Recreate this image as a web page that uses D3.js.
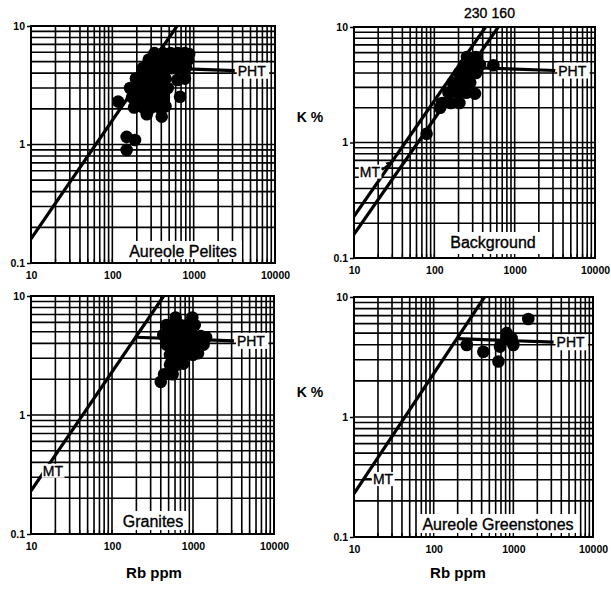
<!DOCTYPE html>
<html lang="en">
<head>
<meta charset="UTF-8">
<title>K % vs Rb ppm</title>
<script src="https://d3js.org/d3.v7.min.js"></script>
<style>
  body { margin: 0; background: #fff; }
  svg { font-family: "Liberation Sans", Arial, sans-serif; }
</style>
</head>
<body>
<script>
// samples, [Rb ppm, K %]
const pelites = [
  [118, 2.3], [150, 1.16], [190, 1.09], [150, 0.9], [265, 1.8], [405, 1.72],
  [330, 5.9], [420, 5.9], [520, 5.9], [640, 5.9], [780, 5.9], [880, 5.8],
  [280, 5.2], [340, 5.2], [410, 5.2], [500, 5.2], [600, 5.2], [720, 5.2], [860, 5.2],
  [235, 4.4], [290, 4.4], [360, 4.4], [440, 4.4], [540, 4.4], [660, 4.4], [800, 4.5],
  [195, 3.6], [240, 3.6], [300, 3.6], [370, 3.6], [450, 3.6], [630, 3.5], [780, 3.6],
  [165, 3.0], [205, 3.0], [255, 3.0], [320, 3.0], [400, 3.0], [480, 3.0],
  [175, 2.5], [220, 2.5], [280, 2.5], [350, 2.5], [430, 2.5], [680, 2.53],
  [185, 2.05], [240, 2.05], [300, 2.05], [380, 2.05], [450, 2.1]
];
const background = [
  [80, 1.19], [255, 5.5], [330, 5.5], [235, 4.7], [300, 4.7], [370, 4.7], [543, 4.67],
  [205, 4.0], [260, 4.0], [330, 4.0], [170, 3.3], [220, 3.3], [280, 3.3],
  [150, 2.7], [195, 2.7], [250, 2.7], [321, 2.65], [125, 2.2], [160, 2.2], [205, 2.2],
  [118, 2.0]
];
const granites = [
  [610, 6.6], [980, 6.6], [470, 5.7], [560, 5.7], [700, 5.7], [850, 5.7], [1050, 5.7],
  [430, 4.7], [520, 4.7], [650, 4.7], [800, 4.7], [1000, 4.7], [1250, 4.6], [1450, 4.5],
  [470, 3.9], [570, 3.9], [720, 3.9], [900, 3.9], [1100, 3.9], [1350, 3.9],
  [520, 3.2], [640, 3.2], [800, 3.2], [1000, 3.2], [1150, 3.3],
  [520, 2.65], [640, 2.65], [760, 2.7], [440, 2.2], [560, 2.2], [400, 1.9]
];
const greenstones = [
  [1540, 6.56], [260, 3.98], [420, 3.5], [650, 2.9], [824, 5.0], [952, 4.53],
  [680, 3.86], [1000, 3.98], [820, 4.53]
];

const xTicks = [10, 100, 1000, 10000];
const yTicks = [0.1, 1, 10];
// K/Rb ratio lines (MT)
const ratiosPelites = [160];
const ratiosBackground = [230, 160];
const ratiosGranites = [230];
const ratiosGreenstones = [230];
// PHT trend, [Rb, K]
const pht = [[200, 4.5], [3200, 4.2]];

const width = 611, height = 589;

const svg = d3.select("body").append("svg")
  .attr("width", width)
  .attr("height", height);

// arrowhead for MT pointer
svg.append("defs").append("marker")
  .attr("id", "arrow")
  .attr("viewBox", "0 0 10 10").attr("refX", 8).attr("refY", 5)
  .attr("markerWidth", 3.5).attr("markerHeight", 3.5).attr("orient", "auto")
  .append("path").attr("d", "M0,0L10,5L0,10z").style("fill", "#000");

// panel layout
const panels = [
  { name: "Aureole Pelites", data: pelites, ratios: ratiosPelites,
    box: [31, 26, 275, 263], labelX: 152, labelUp: 6, mt: null },
  { name: "Background", data: background, ratios: ratiosBackground,
    box: [354, 27, 595, 258], labelX: 139, labelUp: 10,
    mt: { at: [11.8, 0.56], lead: [[22.3, 0.578], [29.5, 0.68]], arrow: true },
    ratioLabels: [-10, 5] },
  { name: "Granites", data: granites, ratios: ratiosGranites,
    box: [31, 296, 274, 534], labelX: 122, labelUp: 7,
    mt: { at: [14, 0.34], lead: null } },
  { name: "Aureole Greenstones", data: greenstones, ratios: ratiosGreenstones,
    box: [354, 297, 593, 537], labelX: 144, labelUp: 7,
    mt: { at: [17.3, 0.304], lead: [[13.2, 0.304], [16.6, 0.304]] } }
];

panels.forEach((p, i) => {
  const [x0, y0, x1, y1] = p.box;
  const x = d3.scaleLog().domain([10, 10000]).range([x0, x1]);
  const y = d3.scaleLog().domain([0.1, 10]).range([y1, y0]);
  const g = svg.append("g");

  const clipId = "clip" + i;
  svg.append("clipPath").attr("id", clipId)
    .append("rect").attr("x", x0).attr("y", y0).attr("width", x1 - x0).attr("height", y1 - y0);

  // grid
  g.selectAll("line.gx").data(x.ticks()).enter().append("line")
    .attr("x1", d => x(d)).attr("x2", d => x(d))
    .attr("y1", y0).attr("y2", y1)
    .style("stroke", "#000").style("stroke-width", 1.6);
  g.selectAll("line.gy").data(y.ticks()).enter().append("line")
    .attr("x1", x0).attr("x2", x1)
    .attr("y1", d => y(d)).attr("y2", d => y(d))
    .style("stroke", "#000").style("stroke-width", 1.6);

  // panel name, white box down to the axis
  const lab = g.append("text")
    .attr("x", x0 + p.labelX).attr("y", y1 - p.labelUp)
    .attr("text-anchor", "middle")
    .style("font-size", "16px")
    .style("stroke", "#000").style("stroke-width", 0.35)
    .text(p.name);
  const bb = lab.node().getBBox();
  g.insert("rect", "text")
    .attr("x", bb.x - 5).attr("y", bb.y - 2)
    .attr("width", bb.width + 10).attr("height", y1 - bb.y + 2)
    .style("fill", "#fff");
  // inner ticks along the bottom
  g.selectAll("line.it").data(x.ticks()).enter().append("line")
    .attr("x1", d => x(d)).attr("x2", d => x(d))
    .attr("y1", y1).attr("y2", y1 - 4)
    .style("stroke", "#000").style("stroke-width", 1.4);

  const plot = g.append("g").attr("clip-path", `url(#${clipId})`);

  // MT ratio lines
  const line = d3.line().x(d => x(d[0])).y(d => y(d[1]));
  p.ratios.forEach(r => {
    plot.append("path")
      .attr("d", line([[10, r * 10 / 10000], [100000 / r, 10]]))
      .style("fill", "none").style("stroke", "#000").style("stroke-width", 3.2);
  });

  // PHT trend
  plot.append("path")
    .attr("d", line(pht))
    .style("fill", "none").style("stroke", "#000").style("stroke-width", 3.2);

  // samples
  plot.selectAll("circle").data(p.data).enter().append("circle")
    .attr("cx", d => x(d[0])).attr("cy", d => y(d[1]))
    .attr("r", 6.3)
    .style("fill", "#000");

  // PHT label
  const last = pht[pht.length - 1];
  const pt = g.append("text")
    .attr("x", x(last[0]) + 3).attr("y", y(last[1]))
    .attr("dy", "0.36em")
    .style("font-size", "14px")
    .style("stroke", "#000").style("stroke-width", 0.35)
    .text("PHT");
  const pb = pt.node().getBBox();
  g.insert("rect", "text:last-of-type")
    .attr("x", pb.x - 1).attr("y", pb.y)
    .attr("width", Math.min(pb.width + 4, x1 - pb.x)).attr("height", pb.height)
    .style("fill", "#fff");

  // MT label
  if (p.mt) {
    const mt = g.append("text")
      .attr("x", x(p.mt.at[0])).attr("y", y(p.mt.at[1]))
      .attr("dy", "0.36em")
      .style("font-size", "14px")
      .style("stroke", "#000").style("stroke-width", 0.35)
      .text("MT");
    const mb = mt.node().getBBox();
    g.insert("rect", "text:last-of-type")
      .attr("x", mb.x - 1).attr("y", mb.y + 1)
      .attr("width", mb.width + 2).attr("height", mb.height - 2)
      .style("fill", "#fff");
    if (p.mt.lead) {
      g.append("path")
        .attr("d", line(p.mt.lead))
        .style("fill", "none").style("stroke", "#000").style("stroke-width", 2)
        .attr("marker-end", p.mt.arrow ? "url(#arrow)" : null);
    }
  }

  // ratio labels above the plot
  if (p.ratioLabels) {
    p.ratios.forEach((r, j) => {
      g.append("text")
        .attr("x", x(100000 / r) + p.ratioLabels[j]).attr("y", y0 - 9)
        .attr("text-anchor", "middle")
        .style("font-size", "14px")
        .style("stroke", "#000").style("stroke-width", 0.35)
        .text(r);
    });
  }

  // frame
  g.append("rect")
    .attr("x", x0).attr("y", y0).attr("width", x1 - x0).attr("height", y1 - y0)
    .style("fill", "none").style("stroke", "#000").style("stroke-width", 2);

  // axes
  const ay = g.append("g")
    .attr("transform", `translate(${x0},0)`)
    .call(d3.axisLeft(y).tickValues(yTicks).tickFormat(d3.format("~g")).tickSize(4).tickPadding(2));
  const ax = g.append("g")
    .attr("transform", `translate(0,${y1})`)
    .call(d3.axisBottom(x).tickValues(xTicks).tickFormat(d3.format("d")).tickSize(0).tickPadding(9));
  [ax, ay].forEach(a => {
    a.select(".domain").remove();
    a.selectAll("line").style("stroke", "#000").style("stroke-width", 1.5);
    a.selectAll("text")
      .style("font-family", '"Liberation Sans", Arial, sans-serif')
      .style("font-size", "10.5px").style("font-weight", "bold").style("fill", "#000");
  });
});

// axis titles
[[310, 117], [310, 392]].forEach(d => {
  svg.append("text").attr("x", d[0]).attr("y", d[1]).attr("dy", "0.36em")
    .attr("text-anchor", "middle")
    .style("font-size", "14px").style("font-weight", "bold")
    .text("K %");
});
[[154, 573], [458, 573]].forEach(d => {
  svg.append("text").attr("x", d[0]).attr("y", d[1]).attr("dy", "0.36em")
    .attr("text-anchor", "middle")
    .style("font-size", "15px").style("font-weight", "bold")
    .text("Rb ppm");
});
</script>
</body>
</html>
